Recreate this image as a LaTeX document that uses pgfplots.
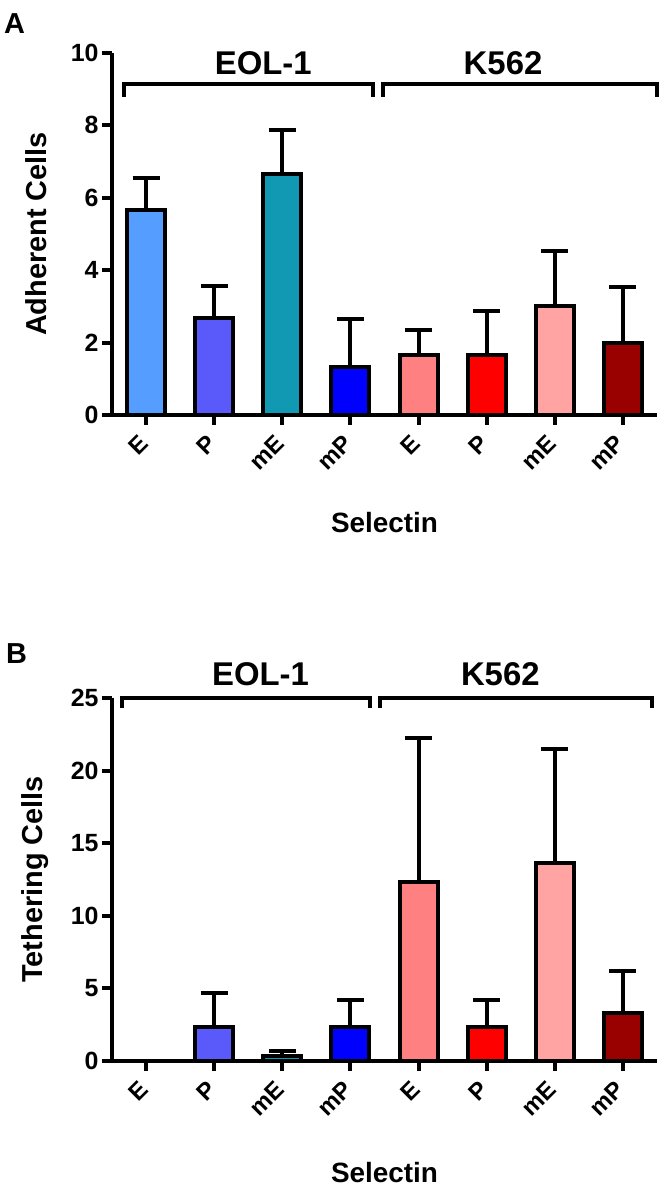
\documentclass[border=0pt]{standalone}
\usepackage{fontspec}
\setmainfont{Liberation Sans}
\usepackage{pgfplots}
\pgfplotsset{compat=1.18}
\newcommand\fs[1]{\fontsize{#1}{#1}\selectfont\bfseries}
\definecolor{eE}{RGB}{85,157,255}
\definecolor{eP}{RGB}{90,90,250}
\definecolor{emE}{RGB}{17,153,180}
\definecolor{emP}{RGB}{0,0,255}
\definecolor{kE}{RGB}{255,128,128}
\definecolor{kP}{RGB}{255,0,0}
\definecolor{kmE}{RGB}{255,163,163}
\definecolor{kmP}{RGB}{153,0,0}
\pgfplotsset{
  prism/.style={
    scale only axis, width=545bp,
    xmin=-0.5, xmax=7.5, ymin=0,
    axis x line=bottom, axis y line=left,
    axis line style={line width=4.5bp,-},
    tick style={line width=4bp,black},
    major tick length=10bp, tick align=outside,
    xtick={0,...,7}, xticklabels={E,P,mE,mP,E,P,mE,mP},
    xticklabel style={rotate=45, anchor=east, font=\fs{24}},
    xticklabel shift=12bp,
    yticklabel style={font=\fs{25}},
    /pgf/number format/assume math mode=true,
    clip=false,
    ybar, bar width=38bp, bar shift=0pt,
    every axis plot/.append style={draw=black, line width=4bp},
    error bars/y dir=plus, error bars/y explicit,
    error bars/error bar style={line width=4bp, black},
    error bars/error mark options={line width=4bp, black, mark size=13.5bp, rotate=90},
  }
}
\begin{document}
\begin{tikzpicture}
\useasboundingbox (0,0) rectangle (664bp,-1187bp);
\node[anchor=north west, font=\fs{29}, inner sep=0] at (4bp,-13bp) {A};
\node[anchor=north west, font=\fs{29}, inner sep=0] at (6bp,-643bp) {B};
% Panel A
\begin{axis}[prism, at={(112bp,-415bp)}, anchor=south west, height=362bp,
  ymax=10, ytick={0,2,...,10},
  ylabel={Adherent Cells}, ylabel style={font=\fs{29}, at={(axis description cs:-0.139,0.5)}, anchor=center},
  xlabel={Selectin}, xlabel style={font=\fs{28}, at={(axis description cs:0.5,-0.298)}, anchor=center}]
\addplot[fill=eE] coordinates {(0,5.67) +- (0,0.88)};
\addplot[fill=eP] coordinates {(1,2.67) +- (0,0.88)};
\addplot[fill=emE] coordinates {(2,6.67) +- (0,1.2)};
\addplot[fill=emP] coordinates {(3,1.33) +- (0,1.33)};
\addplot[fill=kE] coordinates {(4,1.67) +- (0,0.67)};
\addplot[fill=kP] coordinates {(5,1.67) +- (0,1.2)};
\addplot[fill=kmE] coordinates {(6,3.0) +- (0,1.53)};
\addplot[fill=kmP] coordinates {(7,2.0) +- (0,1.53)};
\draw[line width=4bp] (axis cs:-0.32,8.78) -- (axis cs:-0.32,9.15) -- (axis cs:3.33,9.15) -- (axis cs:3.33,8.78);
\draw[line width=4bp] (axis cs:3.48,8.78) -- (axis cs:3.48,9.15) -- (axis cs:7.5,9.15) -- (axis cs:7.5,8.78);
\node[font=\fs{33}] at (axis cs:1.72,9.72) {EOL-1};
\node[font=\fs{33}] at (axis cs:5.24,9.72) {K562};
\end{axis}
% Panel B
\begin{axis}[prism, at={(112bp,-1061bp)}, anchor=south west, height=363bp,
  ymax=25, ytick={0,5,...,25},
  ylabel={Tethering Cells}, ylabel style={font=\fs{29}, at={(axis description cs:-0.142,0.5)}, anchor=center},
  xlabel={Selectin}, xlabel style={font=\fs{28}, at={(axis description cs:0.5,-0.306)}, anchor=center}]
\addplot[fill=eE] coordinates {(0,0) +- (0,0)};
\addplot[fill=eP] coordinates {(1,2.33) +- (0,2.32)};
\addplot[fill=emE] coordinates {(2,0.33) +- (0,0.33)};
\addplot[fill=emP] coordinates {(3,2.33) +- (0,1.85)};
\addplot[fill=kE] coordinates {(4,12.33) +- (0,9.9)};
\addplot[fill=kP] coordinates {(5,2.33) +- (0,1.85)};
\addplot[fill=kmE] coordinates {(6,13.67) +- (0,7.83)};
\addplot[fill=kmP] coordinates {(7,3.33) +- (0,2.89)};
\draw[line width=4bp] (axis cs:-0.36,24.31) -- (axis cs:-0.36,25) -- (axis cs:3.28,25) -- (axis cs:3.28,24.31);
\draw[line width=4bp] (axis cs:3.43,24.31) -- (axis cs:3.43,25) -- (axis cs:7.43,25) -- (axis cs:7.43,24.31);
\node[font=\fs{33}] at (axis cs:1.68,26.65) {EOL-1};
\node[font=\fs{33}] at (axis cs:5.2,26.65) {K562};
\end{axis}
\end{tikzpicture}
\end{document}
